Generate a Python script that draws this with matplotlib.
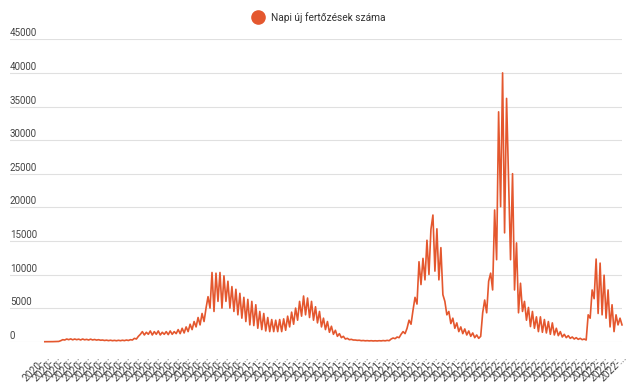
import matplotlib
matplotlib.use("Agg")
import matplotlib.pyplot as plt
import matplotlib.transforms as mtransforms
from matplotlib.lines import Line2D

plt.rcParams['font.family'] = ['Roboto', 'DejaVu Sans']

cases = [
    0, 0, 0, 10, 10, 20, 30, 40,
    150, 300, 250, 400, 300, 420, 280, 400, 300, 380, 260, 400, 280, 350, 250, 380, 260, 330, 240, 300, 220,
    250, 180, 230, 160, 220, 150, 200, 140, 210, 150, 220, 160, 250, 180,
    300, 250, 500, 400, 800, 1100,
    1500, 1000, 1400, 1100, 1600, 1000, 1500, 1100, 1600, 1000, 1400, 1100, 1500, 1050, 1600, 1100, 1500, 1200,
    1800, 1200, 2000, 1300, 2200, 1500, 2600,
    1800, 3000, 2200, 3600, 2500, 4200, 3000, 5000, 6700,
    5000, 10300, 4500, 10200, 6000, 10300, 5000, 9800, 6000, 9000, 5000, 8200, 4500, 7800, 4000, 7200,
    3500, 6600, 3000, 6300, 2500, 6000, 2400, 5500, 2000, 4500, 1800, 4200, 1600, 3600, 1500, 3300,
    1500, 3200, 1500, 3300, 1500, 3400, 1700, 3800, 2200, 4400, 2600, 5000, 3200, 6000, 3800, 6800,
    4000, 6500, 3600, 6000, 3200, 5200, 2800, 4500, 2200, 3500, 1800, 3000, 1400, 2300, 1100, 1700,
    800, 1200, 600, 800, 400, 500, 300, 350, 250,
    250, 200, 220, 150, 180, 130, 160, 120, 150, 110, 140, 110, 150, 120, 170, 130, 200, 150,
    400, 550, 450, 700, 600,
    1100, 1500, 1200, 2000, 3200, 2600, 4700, 6600, 5600, 11900, 8500, 12400, 9200, 15100, 10000, 16700,
    18850, 10500, 16800, 9200, 14000, 7000, 6000, 4000, 4500, 2700, 3500, 2000, 2800, 1500, 2200,
    1200, 1900, 1000, 1600, 800, 1300, 600, 1000, 500, 800,
    4300, 6200, 4300, 9000, 10200, 7700, 19600, 12200, 34200, 20100,
    40000, 16200, 36200, 24000, 12200, 25000, 7700, 14700, 4300, 8700,
    4500, 6000, 3200, 5100, 2250, 4500, 2000, 3700, 1500, 3700,
    1400, 3300, 1300, 3000, 1100, 2800, 1000, 2000, 900, 1500,
    700, 1100, 600, 900, 500, 700, 400, 600, 350, 500,
    300, 400, 250, 4000, 3500, 7700, 6400, 12300, 4200, 11700,
    4000, 9900, 3500, 7700, 2200, 5500, 1500, 4000, 2500, 3500,
    2500,
]

x_labels = ["2020-..."] * 21 + ["2021-..."] * 22 + ["2022-..."] * 16
y_ticks = [0, 5000, 10000, 15000, 20000, 25000, 30000, 35000, 40000, 45000]
series_name = "Napi új fertőzések száma"

line_color = "#e4572e"

fig = plt.figure(figsize=(6.38, 3.85), dpi=100)
ax = fig.add_axes([10 / 638, 1 - 341.7 / 385, 612 / 638, (341.7 - 39.3) / 385])

ax.plot(range(len(cases)), cases, color=line_color, linewidth=1.2, clip_on=False)

ax.set_xlim(-17.5, len(cases) - 1)
ax.set_ylim(0, 45000)
ax.set_yticks(y_ticks)
ax.set_yticklabels([])
ax.tick_params(axis='y', length=0)
ax.grid(axis='y', color='#e0e0e0', linewidth=0.8)
ax.set_axisbelow(True)
for s in ax.spines.values():
    s.set_visible(False)

# y labels sit above their grid lines
trans = mtransforms.offset_copy(ax.get_yaxis_transform(), fig=fig, x=0, y=3, units='dots')
for v in y_ticks:
    ax.text(0, v, str(v), transform=trans, ha='left', va='baseline',
            fontsize=7, color='#444444')

ax.set_xticks(range(0, len(cases), 5))
ax.set_xticklabels(x_labels, rotation=45, ha='right', va='top',
                   rotation_mode='anchor', fontsize=7.3, color='#444444')
ax.tick_params(axis='x', length=0, pad=8)

handle = Line2D([], [], marker='o', linestyle='None', markersize=9.5,
                markerfacecolor=line_color, markeredgecolor=line_color)
fig.legend([handle], [series_name], loc='center', bbox_to_anchor=(0.497, 1 - 17.5 / 385),
           frameon=False, fontsize=7.3, handletextpad=0.3, labelcolor='#333333')

fig.savefig("out.png", dpi=100)
